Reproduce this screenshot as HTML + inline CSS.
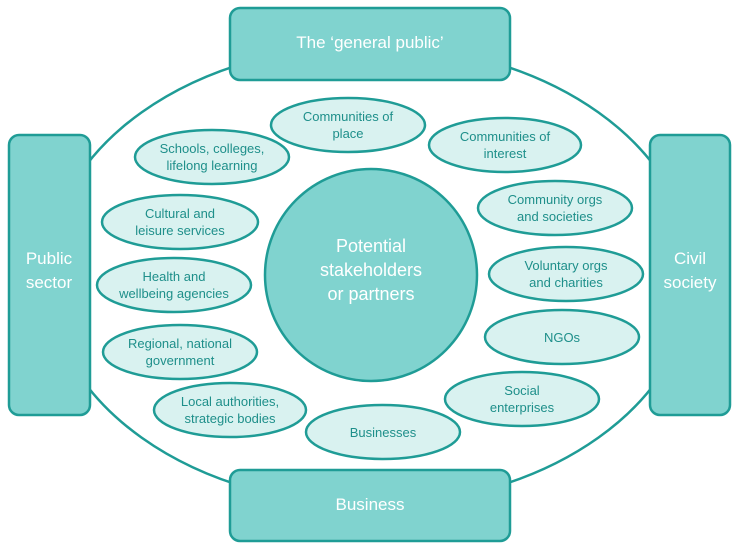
<!DOCTYPE html>
<html><head><style>body{margin:0;background:#fff}svg{display:block}</style></head><body>
<svg width="740" height="550" viewBox="0 0 740 550" xmlns="http://www.w3.org/2000/svg" font-family="Liberation Sans, sans-serif">
<ellipse cx="370" cy="275" rx="323" ry="230" fill="#fff" stroke="#1f9c96" stroke-width="2.5"/>
<g fill="#80d3cf" stroke="#1f9c96" stroke-width="2.5">
<rect x="230" y="8" width="280" height="72" rx="10"/>
<rect x="230" y="470" width="280" height="71" rx="10"/>
<rect x="9" y="135" width="81" height="280" rx="10"/>
<rect x="650" y="135" width="80" height="280" rx="10"/>
<circle cx="371" cy="275" r="106"/>
</g>
<g fill="#fff" font-size="17" text-anchor="middle">
<text x="370" y="48">The ‘general public’</text>
<text x="370" y="510">Business</text>
<text x="49" y="264">Public</text><text x="49" y="288">sector</text>
<text x="690" y="264">Civil</text><text x="690" y="288">society</text>
<text x="371" y="252" font-size="18">Potential</text>
<text x="371" y="276" font-size="18">stakeholders</text>
<text x="371" y="300" font-size="18">or partners</text>
</g>
<g fill="#d9f2f0" stroke="#1f9c96" stroke-width="2.5">
<ellipse cx="348" cy="125" rx="77" ry="27"/>
<ellipse cx="505" cy="145" rx="76" ry="27"/>
<ellipse cx="212" cy="157" rx="77" ry="27"/>
<ellipse cx="180" cy="222" rx="78" ry="27"/>
<ellipse cx="174" cy="285" rx="77" ry="27"/>
<ellipse cx="180" cy="352" rx="77" ry="27"/>
<ellipse cx="230" cy="410" rx="76" ry="27"/>
<ellipse cx="383" cy="432" rx="77" ry="27"/>
<ellipse cx="522" cy="399" rx="77" ry="27"/>
<ellipse cx="562" cy="337" rx="77" ry="27"/>
<ellipse cx="566" cy="274" rx="77" ry="27"/>
<ellipse cx="555" cy="208" rx="77" ry="27"/>
</g>
<g fill="#1e8f8a" font-size="13" text-anchor="middle">
<text x="348" y="121">Communities of</text><text x="348" y="138">place</text>
<text x="505" y="141">Communities of</text><text x="505" y="158">interest</text>
<text x="212" y="153">Schools, colleges,</text><text x="212" y="170">lifelong learning</text>
<text x="180" y="218">Cultural and</text><text x="180" y="235">leisure services</text>
<text x="174" y="281">Health and</text><text x="174" y="298">wellbeing agencies</text>
<text x="180" y="348">Regional, national</text><text x="180" y="365">government</text>
<text x="230" y="406">Local authorities,</text><text x="230" y="423">strategic bodies</text>
<text x="383" y="437">Businesses</text>
<text x="522" y="395">Social</text><text x="522" y="412">enterprises</text>
<text x="562" y="342">NGOs</text>
<text x="566" y="270">Voluntary orgs</text><text x="566" y="287">and charities</text>
<text x="555" y="204">Community orgs</text><text x="555" y="221">and societies</text>
</g>
</svg>
</body></html>
